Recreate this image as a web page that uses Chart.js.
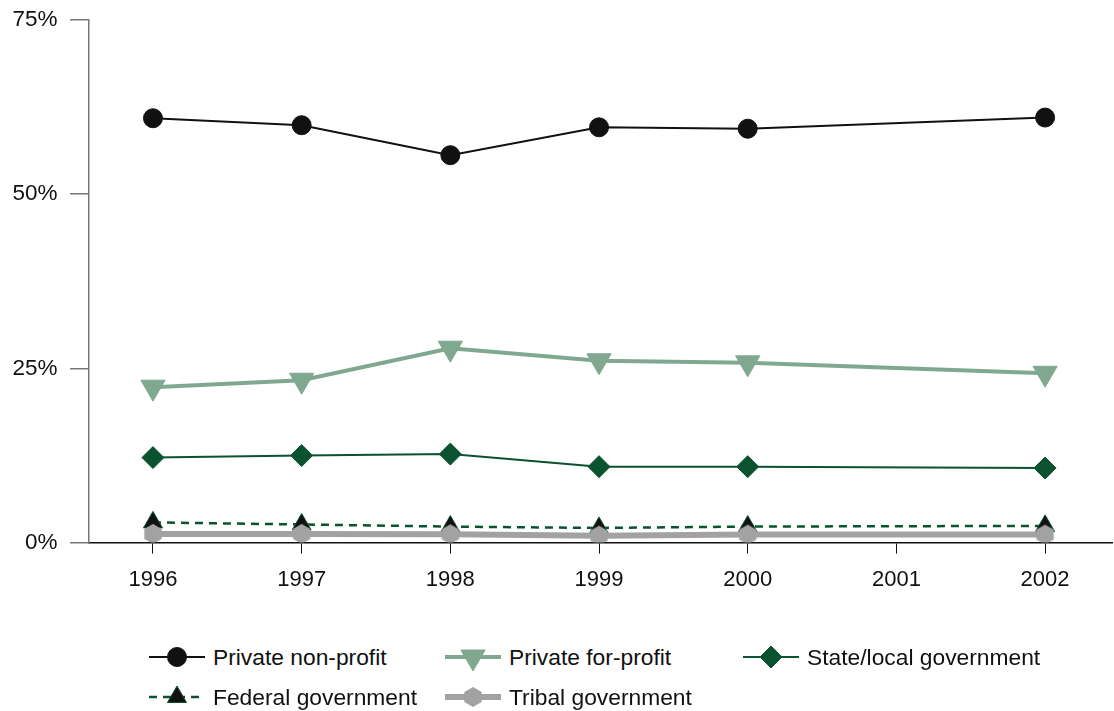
<!DOCTYPE html>
<html>
<head>
<meta charset="utf-8">
<script src="https://cdn.jsdelivr.net/npm/chart.js@4/dist/chart.umd.min.js"></script>
<style>
  body { margin: 0; background: #fff; font-family: "Liberation Sans", Arial, sans-serif; overflow: hidden; }
  #wrap { position: absolute; left: 0; top: 0; width: 1127px; height: 606px; }
  #legend { position: absolute; left: 148px; top: 643px; display: grid;
    grid-template-columns: 296px 298px 300px; row-gap: 12px; font-size: 22.8px; color: #111; }
  .item { display: flex; align-items: center; height: 28px; }
  .item canvas { margin-right: 7px; }
</style>
</head>
<body>
<div id="wrap"><canvas id="chart"></canvas></div>
<div id="legend"></div>
<script>
var years = [1996, 1997, 1998, 1999, 2000, 2001, 2002];
var seriesNames = ['Private non-profit', 'Private for-profit', 'State/local government',
                   'Federal government', 'Tribal government'];
var nonProfit = [60.9, 59.9, 55.6, 59.6, 59.4, null, 61.0];
var forProfit = [22.3, 23.3, 27.9, 26.1, 25.8, null, 24.3];
var stateLocal = [12.2, 12.5, 12.7, 10.9, 10.9, null, 10.7];
var federal = [2.9, 2.6, 2.3, 2.1, 2.3, null, 2.4];
var tribal = [1.25, 1.25, 1.2, 1.0, 1.15, null, 1.15];
var yTicks = [0, 25, 50, 75];

var BLACK = '#111111', LIGHT = '#80a891', DARK = '#0b5230', GREY = '#a2a2a2';

function hexagon(r, color) {
    var c = document.createElement('canvas');
    c.width = 2 * r + 2; c.height = 2 * r + 2;
    var g = c.getContext('2d');
    g.fillStyle = color;
    g.beginPath();
    for (var i = 0; i < 6; i++) {
        var a = Math.PI / 2 + i * Math.PI / 3;
        g.lineTo(r + 1 + r * Math.cos(a), r + 1 - r * Math.sin(a));
    }
    g.closePath();
    g.fill();
    return c;
}
var hexPoint = hexagon(10, GREY);

function pts(vals) {
    return years.map(function(y, i) { return { x: y, y: vals[i] }; });
}

var styles = [
    { data: nonProfit, color: BLACK, fill: BLACK, width: 2, point: 'circle', radius: 9.5, rot: 0, dash: [] },
    { data: forProfit, color: LIGHT, fill: LIGHT, width: 4, point: 'triangle', radius: 14, rot: 180, dash: [] },
    { data: stateLocal, color: DARK, fill: DARK, width: 2, point: 'rectRot', radius: 11, rot: 0, dash: [] },
    { data: federal, color: DARK, fill: BLACK, width: 2.5, point: 'triangle', radius: 11, rot: 0, dash: [8, 6] },
    { data: tribal, color: GREY, fill: GREY, width: 6, point: hexPoint, radius: 10, rot: 0, dash: [] }
];

var datasets = styles.map(function(s, i) {
    return {
        label: seriesNames[i],
        data: pts(s.data),
        borderColor: s.color,
        backgroundColor: s.fill,
        borderWidth: s.width,
        borderDash: s.dash,
        pointStyle: s.point,
        pointRadius: s.radius,
        pointRotation: s.rot,
        pointBorderColor: s.color,
        pointBorderWidth: 1,
        pointBackgroundColor: s.fill,
        spanGaps: true,
        tension: 0
    };
}).reverse();

function noSidePadding(axis) {
    axis.paddingLeft = 0;
    axis.paddingRight = 0;
}

new Chart(document.getElementById('chart'), {
    type: 'line',
    data: { datasets: datasets },
    options: {
        responsive: true,
        maintainAspectRatio: false,
        animation: false,
        layout: { padding: { top: 20, right: 0, left: 0, bottom: 0 } },
        plugins: { legend: { display: false }, tooltip: { enabled: false } },
        scales: {
            x: {
                type: 'linear',
                min: 1995.57,
                max: 2002.45,
                afterBuildTicks: function(axis) {
                    axis.ticks = years.map(function(y) { return { value: y }; });
                },
                afterFit: noSidePadding,
                ticks: {
                    color: BLACK,
                    font: { family: 'Liberation Sans', size: 22 },
                    padding: 13,
                    maxRotation: 0,
                    callback: function(v) { return String(v); }
                },
                grid: { drawOnChartArea: false, tickLength: 11, color: BLACK, lineWidth: 1 },
                border: { color: BLACK, width: 1.5 }
            },
            y: {
                min: 0,
                max: 75,
                afterBuildTicks: function(axis) {
                    axis.ticks = yTicks.map(function(v) { return { value: v }; });
                },
                afterFit: function(axis) { axis.paddingTop = 0; },
                ticks: {
                    color: BLACK,
                    font: { family: 'Liberation Sans', size: 22.5 },
                    padding: 12.5,
                    callback: function(v) { return v + '%'; }
                },
                grid: { drawOnChartArea: false, tickLength: 19, color: '#777', lineWidth: 1.5 },
                border: { color: '#777', width: 1.5 }
            }
        }
    }
});

// legend: line sample with marker, as in the original
var legend = document.getElementById('legend');
styles.forEach(function(s, i) {
    var item = document.createElement('div');
    item.className = 'item';
    var c = document.createElement('canvas');
    c.width = 58; c.height = 28;
    var g = c.getContext('2d');
    g.strokeStyle = s.color;
    g.lineWidth = s.width;
    g.setLineDash(s.dash);
    g.beginPath(); g.moveTo(1, 14); g.lineTo(57, 14); g.stroke();
    g.setLineDash([]);
    g.fillStyle = s.fill;
    g.strokeStyle = s.color;
    g.lineWidth = 1;
    if (s.point === hexPoint) {
        g.drawImage(hexPoint, 29 - 11, 14 - 11);
    } else {
        Chart.helpers.drawPoint(g, { pointStyle: s.point, radius: s.radius, rotation: s.rot, borderWidth: 1 }, 29, 14);
    }
    item.appendChild(c);
    var t = document.createElement('span');
    t.textContent = seriesNames[i];
    item.appendChild(t);
    legend.appendChild(item);
});
</script>
</body>
</html>
